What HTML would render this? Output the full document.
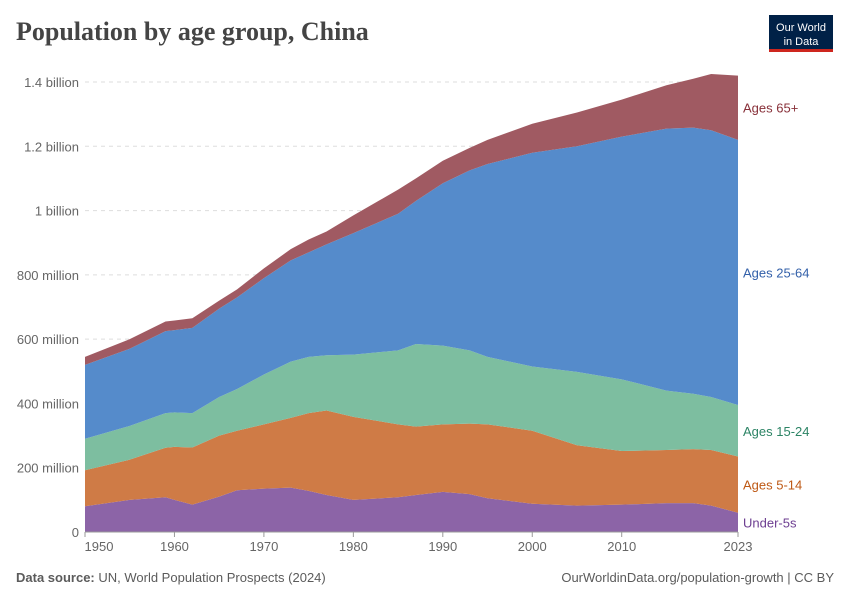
<!DOCTYPE html>
<html><head><meta charset="utf-8"><style>
body{margin:0;background:#fff;width:850px;height:600px;overflow:hidden;font-family:"Liberation Sans",sans-serif}
svg text{font-family:"Liberation Sans",sans-serif}
</style></head><body>
<svg id="c" width="850" height="600">
<text x="16" y="40" font-family="Liberation Serif" font-size="26" font-weight="bold" fill="#444" style="font-family:'Liberation Serif',serif">Population by age group, China</text>
<g>
<rect x="769" y="15" width="64" height="36" fill="#002147"/>
<rect x="769" y="49" width="64" height="3" fill="#ce261e"/>
<text x="801" y="31" font-size="11" fill="#fff" text-anchor="middle">Our World</text>
<text x="801" y="45" font-size="11" fill="#fff" text-anchor="middle">in Data</text>
</g>
<g id="grid"></g><g id="areas"></g><g id="xaxis"></g><g id="labels"></g>
<text x="16" y="582" font-size="13" fill="#5b5b5b"><tspan font-weight="bold">Data source:</tspan> UN, World Population Prospects (2024)</text>
<text x="834" y="582" font-size="13" fill="#5b5b5b" text-anchor="end">OurWorldinData.org/population-growth | CC BY</text>
</svg>
<script>
const years=[1950,1955,1959,1960,1962,1965,1967,1970,1973,1975,1977,1980,1985,1987,1990,1993,1995,2000,2005,2010,2015,2018,2020,2023];
const under5=[80,100,108,100,85,110,130,135,138,128,115,100,108,115,125,118,105,88,82,85,90,90,82,60];
const ages5_14=[112,125,154,165,178,190,185,200,217,242,263,258,227,213,210,219,230,227,188,167,165,168,173,175];
const ages15_24=[98,105,108,107,107,120,130,155,175,175,172,194,230,257,245,228,210,200,228,223,185,172,165,160];
const ages25_64=[230,240,255,256,265,275,285,300,315,325,345,378,425,445,505,560,600,665,702,755,815,828,830,825];
const ages65=[25,30,30,30,30,25,25,30,35,40,40,55,75,70,70,70,75,90,105,115,135,152,175,200];
const yTicks=[0,200,400,600,800,1000,1200,1400];
const yTickLabels=["0","200 million","400 million","600 million","800 million","1 billion","1.2 billion","1.4 billion"];
const xTicks=[1950,1960,1970,1980,1990,2000,2010,2023];
const NS="http://www.w3.org/2000/svg";
const X=y=>85+(y-1950)*(738-85)/73;
const Y=v=>532-v*(450/1400);
function mk(t,a,p){const e=document.createElementNS(NS,t);for(const k in a)e.setAttribute(k,a[k]);p.appendChild(e);return e;}
const grid=document.getElementById('grid');
yTicks.forEach((v,i)=>{
 if(v>0){const l=mk('line',{x1:85,x2:738,y1:Y(v),y2:Y(v),stroke:'#ddd','stroke-dasharray':'4,4'},grid);
 
 }
 const t=mk('text',{x:79,y:Y(v)+5,'font-size':13,fill:'#666','text-anchor':'end'},grid);t.textContent=yTickLabels[i];
 
 
});
const series=[
 {d:under5,c:'#8c64a7',n:'under-5s',lab:'Under-5s',lc:'#6d3e91'},
 {d:ages5_14,c:'#cf7b46',n:'ages-5-14',lab:'Ages 5-14',lc:'#be5915'},
 {d:ages15_24,c:'#7dbea0',n:'ages-15-24',lab:'Ages 15-24',lc:'#2c8465'},
 {d:ages25_64,c:'#558bcb',n:'ages-25-64',lab:'Ages 25-64',lc:'#3360a9'},
 {d:ages65,c:'#a05a62',n:'ages-65-plus',lab:'Ages 65+',lc:'#883039'}];
let base=years.map(()=>0);
const areas=document.getElementById('areas'),labels=document.getElementById('labels');
series.forEach(s=>{
 const top=base.map((b,i)=>b+s.d[i]);
 let p='M'+years.map((y,i)=>X(y)+','+Y(top[i])).join('L');
 for(let i=years.length-1;i>=0;i--)p+='L'+X(years[i])+','+Y(base[i]);
 const a=mk('path',{d:p+'Z',fill:s.c},areas);
 
 
 const n=years.length-1;
 const t=mk('text',{x:743,y:Y((base[n]+top[n])/2)+5,'font-size':13,fill:s.lc},labels);t.textContent=s.lab;
 
 
 base=top;
});
const xa=document.getElementById('xaxis');
const ax=mk('line',{x1:85,x2:738,y1:532,y2:532,stroke:'#999'},xa);


xTicks.forEach(y=>{
 const tk=mk('line',{x1:X(y),x2:X(y),y1:532,y2:537,stroke:'#999'},xa);
 
 
 const t=mk('text',{x:y===1950?X(y)+14:X(y),y:551,'font-size':13,fill:'#666','text-anchor':'middle'},xa);t.textContent=y;
 
 
});
</script>
</body></html>
